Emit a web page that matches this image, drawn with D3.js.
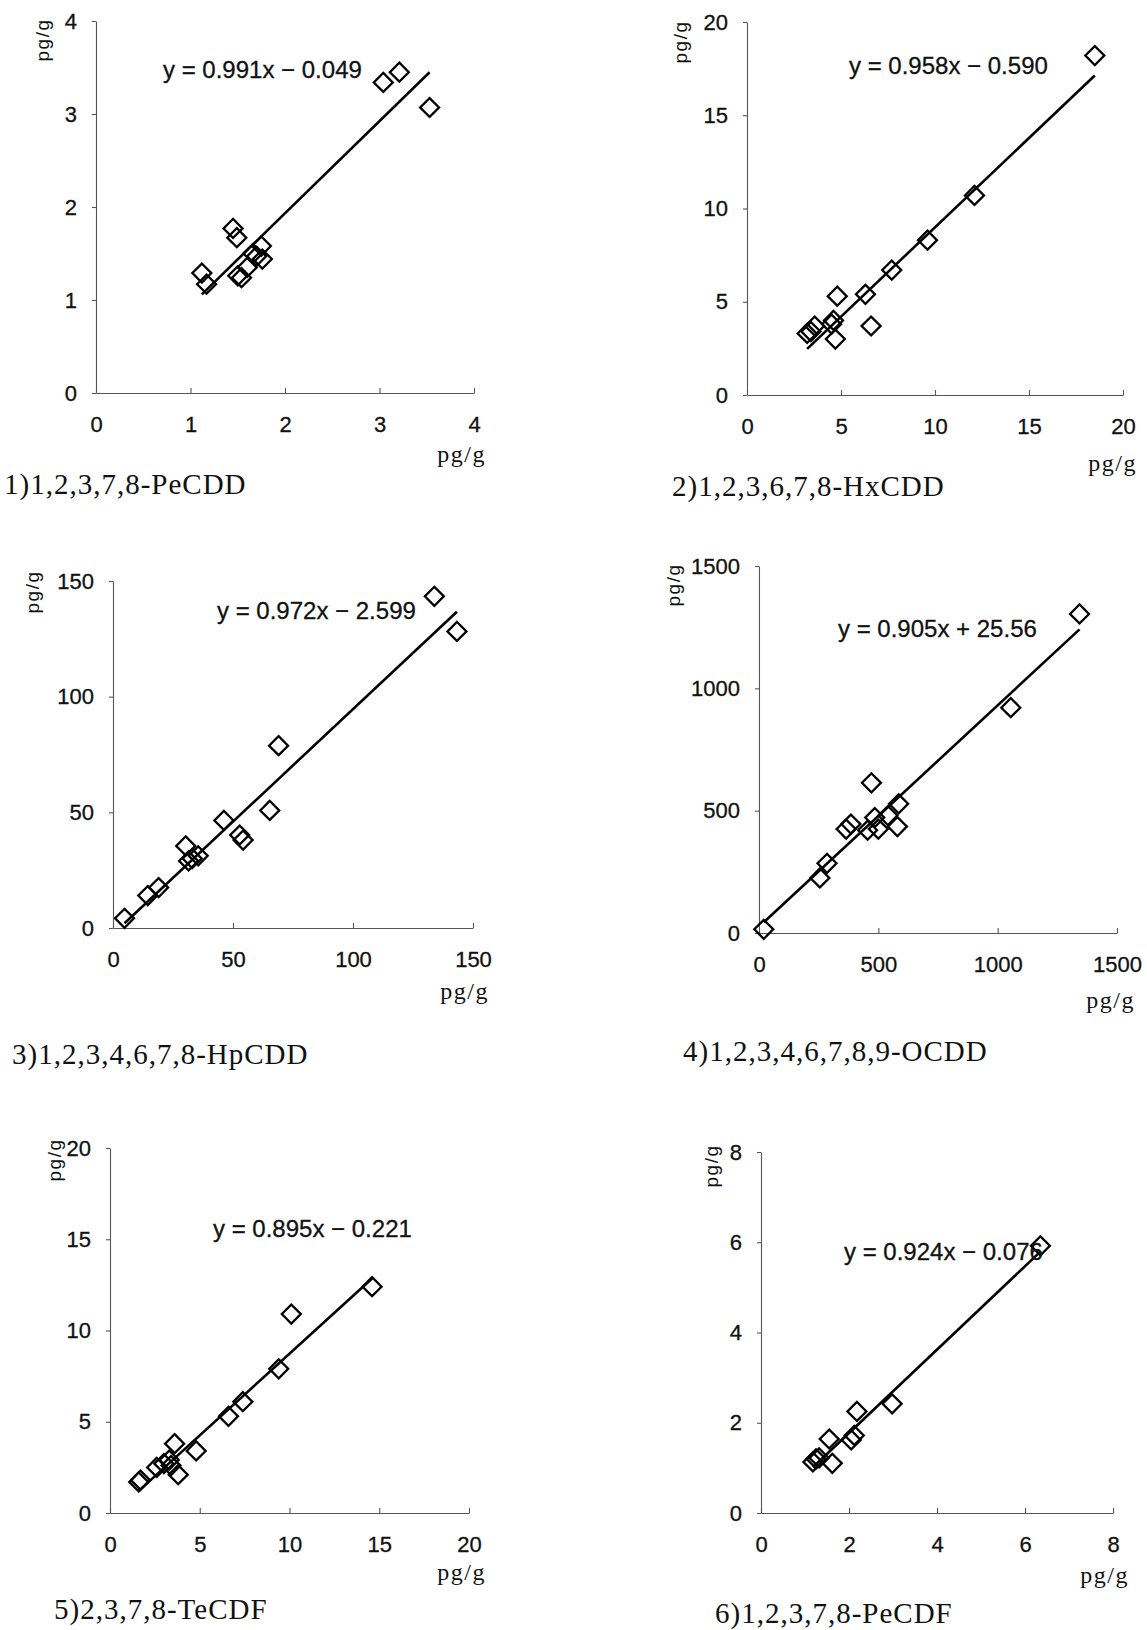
<!DOCTYPE html>
<html>
<head>
<meta charset="utf-8">
<script src="https://cdn.jsdelivr.net/npm/d3@7"></script>
<style>
  html, body { margin: 0; padding: 0; background: #fff; }
  svg { display: block; }
  .axis .domain, .axis line { stroke: #555; stroke-width: 1.1; }
  .axis text { font-family: "Liberation Sans", Arial, sans-serif; font-size: 22px; fill: #111; stroke: #111; stroke-width: 0.3; }
</style>
</head>
<body>
<svg id="chart" width="1147" height="1630"></svg>
<script>
// Congener names shown under each scatter plot
const titles = [
  "1)1,2,3,7,8-PeCDD",
  "2)1,2,3,6,7,8-HxCDD",
  "3)1,2,3,4,6,7,8-HpCDD",
  "4)1,2,3,4,6,7,8,9-OCDD",
  "5)2,3,7,8-TeCDF",
  "6)1,2,3,7,8-PeCDF"
];
const unitLabel = "pg/g";

// Tick values (same for both axes of a panel)
const ticks1 = [0, 1, 2, 3, 4];
const ticks2 = [0, 5, 10, 15, 20];
const ticks3 = [0, 50, 100, 150];
const ticks4 = [0, 500, 1000, 1500];
const ticks5 = [0, 5, 10, 15, 20];
const ticks6 = [0, 2, 4, 6, 8];

// Regression fits: y = slope * x + intercept
const slopes = [0.991, 0.958, 0.972, 0.905, 0.895, 0.924];
const intercepts = [-0.049, -0.590, -2.599, 25.56, -0.221, -0.076];
const interceptDecimals = [3, 3, 3, 2, 3, 3];

// Paired measurements (x: method A, y: method B), pg/g
const x1 = [1.12, 1.17, 1.45, 1.49, 1.50, 1.54, 1.60, 1.66, 1.70, 1.75, 1.76, 3.04, 3.21, 3.53];
const y1 = [1.29, 1.17, 1.77, 1.67, 1.26, 1.24, 1.35, 1.50, 1.47, 1.58, 1.44, 3.34, 3.45, 3.07];

const x2 = [3.2, 3.4, 3.6, 4.5, 4.6, 4.7, 4.8, 6.3, 6.6, 7.7, 9.6, 12.1, 18.5];
const y2 = [3.3, 3.4, 3.7, 3.8, 4.0, 3.0, 5.3, 5.4, 3.7, 6.7, 8.3, 10.7, 18.2];

const x3 = [4.8, 14.5, 19.0, 30.3, 31.5, 33.0, 35.5, 46.2, 52.8, 54.2, 65.3, 69.0, 133.9, 143.3];
const y3 = [4.2, 14.0, 17.5, 35.5, 29.0, 30.0, 31.2, 46.5, 40.2, 38.0, 50.8, 78.8, 143.4, 128.2];

const x4 = [20, 255, 285, 365, 385, 455, 485, 500, 540, 580, 585, 471, 1055, 1343];
const y4 = [15, 225, 285, 425, 445, 420, 472, 425, 480, 435, 528, 614, 921, 1304];

const x5 = [1.6, 1.7, 2.6, 3.0, 3.3, 3.4, 3.6, 3.8, 4.8, 6.6, 7.4, 9.4, 10.1, 14.6];
const y5 = [1.7, 1.8, 2.5, 2.7, 2.9, 2.6, 3.8, 2.1, 3.4, 5.3, 6.1, 7.9, 10.9, 12.4];

const x6 = [1.18, 1.25, 1.32, 1.55, 1.62, 2.05, 2.12, 2.18, 2.98, 6.35];
const y6 = [1.13, 1.20, 1.22, 1.64, 1.10, 1.62, 1.72, 2.25, 2.42, 5.92];

const tickSets = [ticks1, ticks2, ticks3, ticks4, ticks5, ticks6];
const xSets = [x1, x2, x3, x4, x5, x6];
const ySets = [y1, y2, y3, y4, y5, y6];

// Page layout for each panel: plot box and text anchors (pixels)
const frames = [
  { l: 96,  t: 21,   r: 474,  b: 393,  eq: [163, 78],   title: [4, 494],    xl: [486, 462],   yl: [43, 40] },
  { l: 747, t: 22,   r: 1123, b: 395,  eq: [849, 74],   title: [672, 496],  xl: [1137, 471],  yl: [681, 42] },
  { l: 113, t: 581,  r: 473,  b: 928,  eq: [217, 619],  title: [12, 1064],  xl: [489, 999],   yl: [33, 592] },
  { l: 759, t: 566,  r: 1117, b: 933,  eq: [838, 637],  title: [683, 1061], xl: [1135, 1008], yl: [674, 585] },
  { l: 110, t: 1148, r: 469,  b: 1513, eq: [213, 1237], title: [54, 1619],  xl: [486, 1580],  yl: [55, 1160] },
  { l: 761, t: 1152, r: 1113, b: 1513, eq: [844, 1260], title: [715, 1623], xl: [1129, 1583], yl: [712, 1166] }
];

const svg = d3.select("#chart");
const diamond = d3.symbol(d3.symbolSquare, 180);
const tickFmt = d3.format("d");

function equationText(i) {
  const s = slopes[i].toFixed(3);
  const b = intercepts[i];
  const sign = b < 0 ? "\u2212" : "+";
  return `y = ${s}x ${sign} ${Math.abs(b).toFixed(interceptDecimals[i])}`;
}

frames.forEach((f, i) => {
  const ticks = tickSets[i];
  const max = ticks[ticks.length - 1];
  const x = d3.scaleLinear().domain([0, max]).range([f.l, f.r]);
  const y = d3.scaleLinear().domain([0, max]).range([f.b, f.t]);
  const g = svg.append("g");

  g.append("g")
    .attr("class", "axis")
    .attr("transform", `translate(0,${f.b})`)
    .call(d3.axisBottom(x).tickValues(ticks).tickFormat(tickFmt)
      .tickSizeInner(-5).tickSizeOuter(0).tickPadding(23));

  g.append("g")
    .attr("class", "axis")
    .attr("transform", `translate(${f.l},0)`)
    .call(d3.axisLeft(y).tickValues(ticks).tickFormat(tickFmt)
      .tickSizeInner(4).tickSizeOuter(0).tickPadding(15));

  // fitted line across the observed x range
  const xs = xSets[i];
  const ext = d3.extent(xs);
  const fit = d3.line()
    .x(d => x(d))
    .y(d => y(slopes[i] * d + intercepts[i]));
  g.append("path")
    .datum(ext)
    .attr("d", fit)
    .attr("fill", "none")
    .attr("stroke", "#000")
    .attr("stroke-width", 2.6);

  // data points as open diamonds
  g.append("g")
    .selectAll("path")
    .data(xs.map((v, k) => [v, ySets[i][k]]))
    .join("path")
    .attr("d", diamond)
    .attr("transform", d => `translate(${x(d[0])},${y(d[1])}) rotate(45)`)
    .attr("fill", "none")
    .attr("stroke", "#000")
    .attr("stroke-width", 2.3);

  // regression equation
  g.append("text")
    .attr("x", f.eq[0])
    .attr("y", f.eq[1])
    .attr("font-family", "Liberation Sans, Arial, sans-serif")
    .attr("font-size", 24)
    .attr("fill", "#111")
    .attr("stroke", "#111")
    .attr("stroke-width", 0.3)
    .text(equationText(i));

  // axis units
  g.append("text")
    .attr("x", f.xl[0])
    .attr("y", f.xl[1])
    .attr("text-anchor", "end")
    .attr("font-family", "Liberation Serif, Times New Roman, serif")
    .attr("font-size", 24)
    .attr("letter-spacing", 1.5)
    .attr("fill", "#111")
    .text(unitLabel);

  g.append("text")
    .attr("transform", `translate(${f.yl[0]},${f.yl[1]}) rotate(-90)`)
    .attr("text-anchor", "middle")
    .attr("dy", "0.32em")
    .attr("font-family", "Liberation Sans, Arial, sans-serif")
    .attr("font-size", 19)
    .attr("letter-spacing", 1.5)
    .attr("fill", "#111")
    .text(unitLabel);

  // panel caption
  g.append("text")
    .attr("x", f.title[0])
    .attr("y", f.title[1])
    .attr("font-family", "Liberation Serif, Times New Roman, serif")
    .attr("font-size", 29)
    .attr("letter-spacing", 1)
    .attr("fill", "#111")
    .text(titles[i]);
});
</script>
</body>
</html>
